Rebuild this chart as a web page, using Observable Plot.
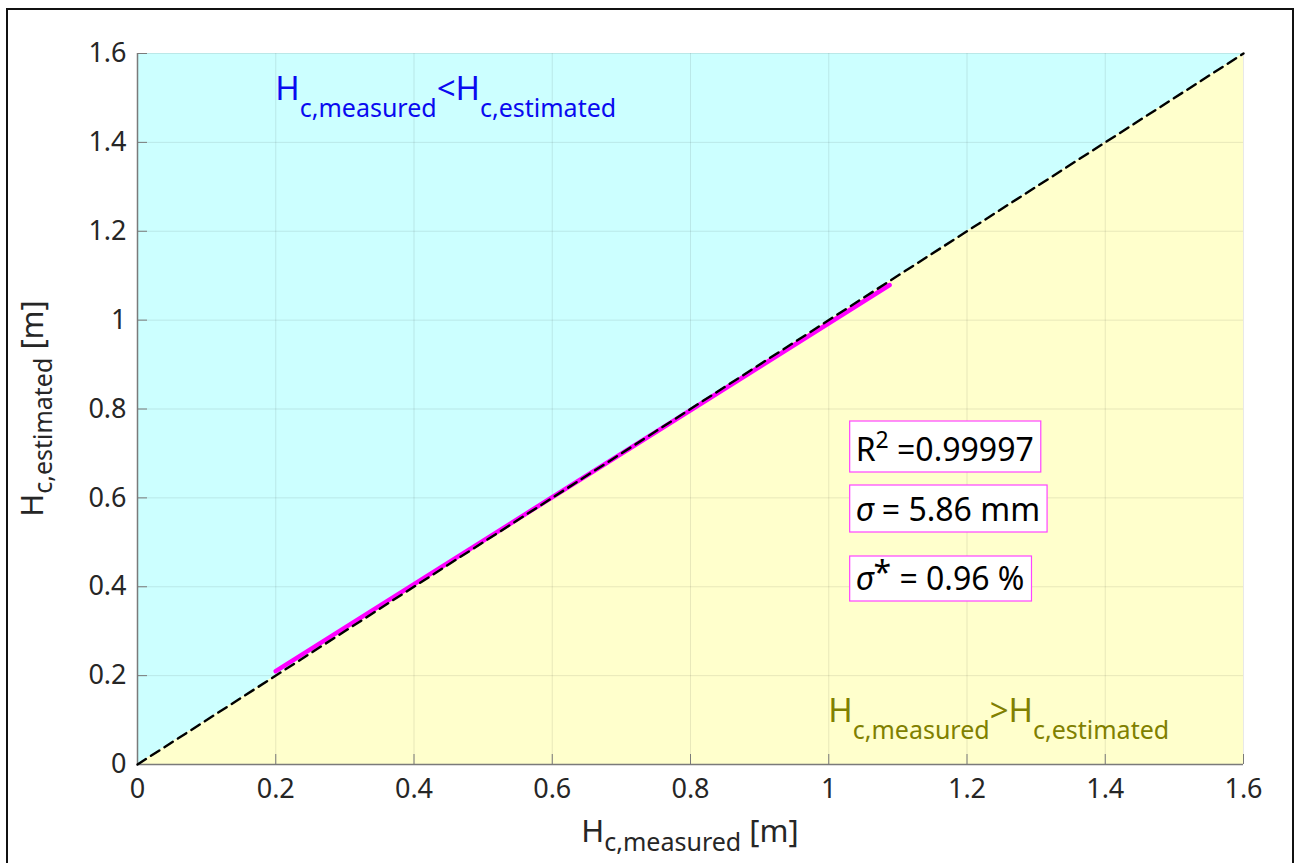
<!DOCTYPE html>
<html><head><meta charset="utf-8">
<script src="https://cdn.jsdelivr.net/npm/d3@7"></script>
<script src="https://cdn.jsdelivr.net/npm/@observablehq/plot@0.6"></script>
<style>
html,body{margin:0;padding:0;background:#fff;}
#wrap{position:relative;width:1295px;height:863px;overflow:hidden;}
#frame{position:absolute;left:6px;top:8px;width:1288px;height:900px;border:2px solid #111;box-sizing:border-box;pointer-events:none;}
svg text{font-family:"Noto Sans",sans-serif;}
</style></head><body><div id="wrap"><div id="chart"></div><div id="frame"></div></div>
<script>
const xTicks = [0, 0.2, 0.4, 0.6, 0.8, 1, 1.2, 1.4, 1.6];
const yTicks = [0, 0.2, 0.4, 0.6, 0.8, 1, 1.2, 1.4, 1.6];
const xDomain = [0, 1.6];
const yDomain = [0, 1.6];
const refX = [0, 1.6];
const refY = [0, 1.6];
const fitX = [0.2, 1.088];
const fitY = [0.21, 1.079];
const r2Value = "0.99997";
const sigmaValue = "5.86 mm";
const sigmaStarValue = "0.96 %";

const W = 1295, H = 863;
const mL = 137, mR = 52, mT = 53, mB = 99;
const frameW = W - mL - mR, frameH = H - mT - mB;
const gridColor = "#1a1a1a";
const axisColor = "#7a7a7a";
const tickTextColor = "#262626";

const plot = Plot.plot({
  width: W, height: H,
  marginLeft: mL, marginRight: mR, marginTop: mT, marginBottom: mB,
  style: {fontFamily: "Noto Sans, sans-serif", fontSize: "27px", background: "transparent", overflow: "visible"},
  x: {domain: xDomain},
  y: {domain: yDomain},
  marks: [
    Plot.areaY(refX, {x: d => d, y1: (d, i) => refY[i], y2: () => yDomain[1], fill: "#ccffff"}),
    Plot.areaY(refX, {x: d => d, y1: () => yDomain[0], y2: (d, i) => refY[i], fill: "#ffffcc"}),
    Plot.gridX(xTicks, {stroke: gridColor, strokeOpacity: 0.1, strokeWidth: 1}),
    Plot.gridY(yTicks, {stroke: gridColor, strokeOpacity: 0.1, strokeWidth: 1}),
    Plot.ruleX(xTicks, {stroke: axisColor, strokeWidth: 1, insetTop: frameH - 10}),
    Plot.ruleY(yTicks, {stroke: axisColor, strokeWidth: 1, insetRight: frameW - 10}),
    Plot.ruleY([yDomain[0]], {stroke: axisColor, strokeWidth: 1.5}),
    Plot.ruleX([xDomain[0]], {stroke: axisColor, strokeWidth: 1.5}),
    Plot.line(fitX, {x: d => d, y: (d, i) => fitY[i], stroke: "#ff00ff", strokeWidth: 4.5}),
    Plot.line(refX, {x: d => d, y: (d, i) => refY[i], stroke: "#000", strokeWidth: 2.4, strokeDasharray: "10,6"}),
    Plot.axisX(xTicks, {tickSize: 0, tickPadding: 14, tickFormat: d => String(d), fill: tickTextColor, label: null}),
    Plot.axisY(yTicks, {tickSize: 0, tickPadding: 11, tickFormat: d => String(d), fill: tickTextColor, label: null})
  ]
});

document.getElementById("chart").appendChild(plot);
const xs = plot.scale("x"), ys = plot.scale("y");
const svg = d3.select(plot);
const g = svg.append("g");

function richText(parent, x, y, parts, opts) {
  const t = parent.append("text").attr("x", x).attr("y", y)
    .attr("fill", opts.fill || "#000")
    .attr("font-size", opts.size)
    .attr("text-anchor", opts.anchor || "start");
  if (opts.rotate) t.attr("transform", `rotate(${opts.rotate},${x},${y})`);
  parts.forEach(p => {
    const s = t.append("tspan").text(p.t);
    if (p.size) s.attr("font-size", p.size);
    if (p.italic) s.attr("font-style", "italic");
    if (p.dy) s.attr("dy", p.dy);
  });
  return t;
}

// Region labels
richText(g, xs.apply(0.2), ys.apply(1.5) + 3, [
  {t: "H"}, {t: "c,measured", size: 25, dy: 17}, {t: "<H", dy: -17}, {t: "c,estimated", size: 25, dy: 17}
], {size: 33, fill: "#0a0af0"});
richText(g, xs.apply(1.0), ys.apply(0.1) + 2, [
  {t: "H"}, {t: "c,measured", size: 25, dy: 17}, {t: ">H", dy: -17}, {t: "c,estimated", size: 25, dy: 17}
], {size: 33, fill: "#808000"});

// Axis labels
richText(g, mL + frameW / 2, 842, [
  {t: "H"}, {t: "c,measured", size: 25, dy: 9}, {t: " [m]", dy: -9}
], {size: 31, fill: tickTextColor, anchor: "middle"});
richText(g, 43, mT + frameH / 2, [
  {t: "H"}, {t: "c,estimated", size: 25, dy: 9}, {t: " [m]", dy: -9}
], {size: 31, fill: tickTextColor, anchor: "middle", rotate: -90});

// Stat boxes
const boxX = xs.apply(1.031);
function statBox(top, bottom, parts) {
  const bg = g.append("g");
  const rect = bg.append("rect");
  const t = richText(bg, boxX + 6, bottom, parts, {size: 32, fill: "#000"});
  const bb = t.node().getBBox();
  rect.attr("x", boxX).attr("y", top)
    .attr("width", bb.x + bb.width - boxX + 7).attr("height", bottom - top + 11)
    .attr("fill", "#fff").attr("stroke", "#ff44ff").attr("stroke-width", 1.2);
}
statBox(421, 461, [{t: "R"}, {t: "2", size: 23, dy: -13}, {t: " =" + r2Value, dy: 13}]);
statBox(485, 521, [{t: "σ", italic: true}, {t: " = " + sigmaValue}]);
statBox(556, 590, [{t: "σ", italic: true}, {t: "*", dy: -6}, {t: " = " + sigmaStarValue, dy: 6}]);
</script></body></html>
